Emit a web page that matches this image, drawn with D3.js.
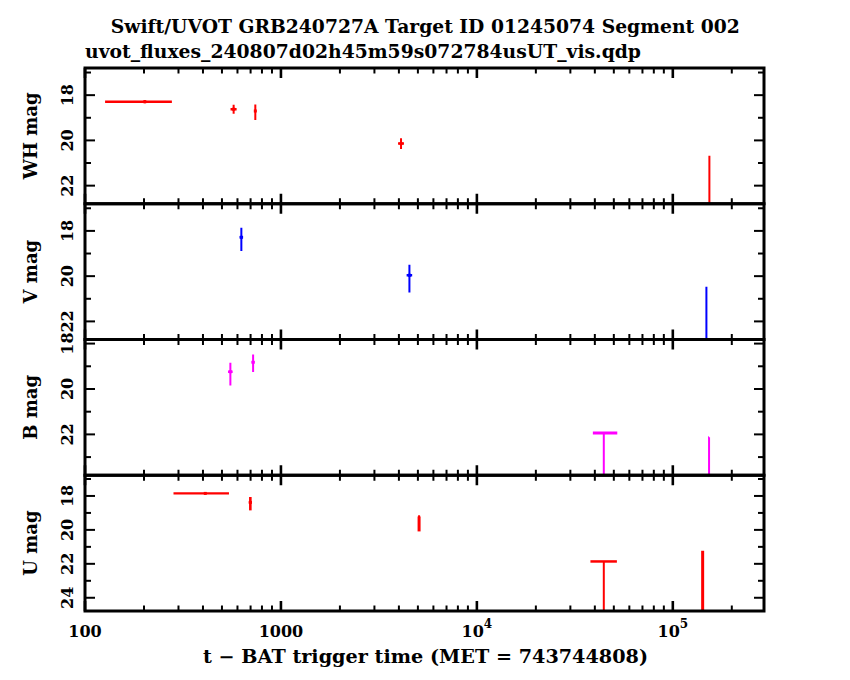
<!DOCTYPE html>
<html>
<head>
<meta charset="utf-8">
<script src="https://cdn.jsdelivr.net/npm/d3@7"></script>
<style>
  body { margin: 0; background: #fff; }
  svg text { font-family: "DejaVu Serif", serif; font-weight: bold; fill: #000; }
</style>
</head>
<body>
<svg id="chart" width="850" height="680"></svg>
<script>
// time axis (seconds since BAT trigger)
const timeDomain = [100, 2.92e5];
const timeMajor = [100, 1000, 1e4, 1e5];
const timeLabels = [["100", null], ["1000", null], ["10", "4"], ["10", "5"]];

// filters, top to bottom
const filters = ["WH", "V", "B", "U"];
const filterColors = ["#ff0000", "#0000ff", "#ff00ff", "#ff0000"];
const magDomains = [[16.8, 22.8], [16.8, 22.8], [17.82, 23.8], [16.78, 24.78]];
const magMajor = [[18, 20, 22], [18, 20, 22], [18, 20, 22], [18, 20, 22, 24]];
const magMinor = [[17, 19, 21], [17, 19, 21], [19, 21, 23], [17, 19, 21, 23]];

// detections: [t, tMin, tMax, mag (null = no marker), magBright, magFaint]
const whPoints = [
  [202, 126.6, 277.6, 18.29, 18.22, 18.36],
  [573.6, 553, 594, 18.62, 18.42, 18.82],
  [740, 734, 746, 18.70, 18.41, 19.10],
  [4101, 3960, 4245, 20.14, 19.90, 20.38],
  [153700, 153700, 153700, null, 20.68, 24.5]
];
const vPoints = [
  [628, 615, 641, 18.28, 17.86, 18.89],
  [4526, 4380, 4675, 19.96, 19.50, 20.72],
  [148400, 148400, 148400, null, 20.47, 24.5]
];
const bPoints = [
  [552, 537, 567, 19.24, 18.84, 19.85],
  [721, 708, 734, 18.82, 18.48, 19.25],
  [153100, 151500, 153100, null, 22.13, 25.5]
];
const uPoints = [
  [411, 282.9, 543, 17.85, 17.81, 17.89],
  [698, 685, 711, 18.38, 18.06, 18.85],
  [5070, 5010, 5130, null, 19.21, 20.09],
  [142000, 142000, 142000, null, 21.23, 26]
];
// upper limits: [t, tMin, tMax, limit mag]
const whLimits = [];
const vLimits = [];
const bLimits = [[44440, 39080, 52070, 21.94]];
const uLimits = [[44440, 37980, 51830, 21.86]];

const allPoints = [whPoints, vPoints, bPoints, uPoints];
const allLimits = [whLimits, vLimits, bLimits, uLimits];
const lineWidths = [2, 2, 2, 2.6];

const svg = d3.select("#chart");
const plotLeft = 85, plotRight = 764, plotTop = 68, plotBottom = 611;
const panelH = (plotBottom - plotTop) / filters.length;

const x = d3.scaleLog().domain(timeDomain).range([plotLeft, plotRight]);

const timeMinor = [];
for (let dec = 100; dec < timeDomain[1]; dec *= 10) {
  for (let k = 2; k <= 9; k++) {
    if (k * dec < timeDomain[1]) timeMinor.push(k * dec);
  }
}

filters.forEach((name, i) => {
  const y0 = plotTop + i * panelH, y1 = y0 + panelH;
  const y = d3.scaleLinear().domain(magDomains[i]).range([y0, y1]);
  const color = filterColors[i];
  const g = svg.append("g").attr("class", "panel");

  svg.append("clipPath").attr("id", "clip" + i)
    .append("rect").attr("x", plotLeft).attr("y", y0)
    .attr("width", plotRight - plotLeft).attr("height", panelH);

  const data = g.append("g").attr("clip-path", `url(#clip${i})`);

  // error bars
  allPoints[i].forEach(p => {
    const [t, tMin, tMax, mag, mB, mF] = p;
    const lw = (name === "U" && mag === null) ? 3 : lineWidths[i];
    data.append("line")
      .attr("x1", x(t)).attr("x2", x(t))
      .attr("y1", y(mB)).attr("y2", y(mF))
      .attr("stroke", color).attr("stroke-width", lw);
    if (tMax > tMin) {
      const my = mag === null ? y(mB) : y(mag);
      data.append("line")
        .attr("x1", x(tMin)).attr("x2", x(tMax))
        .attr("y1", my).attr("y2", my)
        .attr("stroke", color).attr("stroke-width", 2.4);
    }
    if (mag !== null) {
      data.append("rect")
        .attr("x", x(t) - 1.5).attr("y", y(mag) - 1.5)
        .attr("width", 3).attr("height", 3)
        .attr("fill", color);
    }
  });

  // upper limits
  allLimits[i].forEach(l => {
    const [t, tMin, tMax, lim] = l;
    data.append("line")
      .attr("x1", x(tMin)).attr("x2", x(tMax))
      .attr("y1", y(lim)).attr("y2", y(lim))
      .attr("stroke", color).attr("stroke-width", name === "B" ? 3 : 2.5);
    data.append("line")
      .attr("x1", x(t)).attr("x2", x(t))
      .attr("y1", y(lim)).attr("y2", y1 + 5)
      .attr("stroke", color).attr("stroke-width", 2);
  });

  // x ticks, top and bottom of every panel, inward
  const xt = timeMajor.map(v => [v, 10]).concat(timeMinor.map(v => [v, 5.5]));
  xt.forEach(([v, len]) => {
    const xx = x(v);
    const sw = len > 6 ? 2.6 : 2;
    g.append("line").attr("x1", xx).attr("x2", xx).attr("y1", y0).attr("y2", y0 + len)
      .attr("stroke", "#000").attr("stroke-width", sw);
    g.append("line").attr("x1", xx).attr("x2", xx).attr("y1", y1).attr("y2", y1 - len)
      .attr("stroke", "#000").attr("stroke-width", sw);
  });

  // y ticks, left and right, inward
  const yt = magMajor[i].map(v => [v, 10]).concat(magMinor[i].map(v => [v, 6]));
  yt.forEach(([v, len]) => {
    const yy = y(v);
    g.append("line").attr("x1", plotLeft).attr("x2", plotLeft + len).attr("y1", yy).attr("y2", yy)
      .attr("stroke", "#000").attr("stroke-width", 2);
    g.append("line").attr("x1", plotRight).attr("x2", plotRight - len).attr("y1", yy).attr("y2", yy)
      .attr("stroke", "#000").attr("stroke-width", 2);
  });

  // y tick labels, rotated
  magMajor[i].forEach(v => {
    g.append("text")
      .attr("transform", `translate(73,${y(v)}) rotate(-90)`)
      .attr("text-anchor", "middle")
      .attr("font-size", 16)
      .text(v);
  });

  // y axis title
  g.append("text")
    .attr("transform", `translate(37,${(y0 + y1) / 2}) rotate(-90)`)
    .attr("text-anchor", "middle")
    .attr("font-size", 18)
    .text(name + " mag");

  // frame
  g.append("rect")
    .attr("x", plotLeft).attr("y", y0)
    .attr("width", plotRight - plotLeft).attr("height", panelH)
    .attr("fill", "none").attr("stroke", "#000").attr("stroke-width", 3);
});

// x tick labels
timeMajor.forEach((v, k) => {
  const [base, sup] = timeLabels[k];
  const t = svg.append("text")
    .attr("x", x(v)).attr("y", 636.5)
    .attr("text-anchor", "middle")
    .attr("font-size", 16);
  t.append("tspan").text(base);
  if (sup) t.append("tspan").attr("font-size", 12).attr("dy", -9).text(sup);
});

svg.append("text")
  .attr("x", 425.5).attr("y", 663)
  .attr("text-anchor", "middle")
  .attr("font-size", 18)
  .attr("textLength", 445).attr("lengthAdjust", "spacingAndGlyphs")
  .text("t \u2212 BAT trigger time (MET = 743744808)");

svg.append("text")
  .attr("x", 425.3).attr("y", 32.5)
  .attr("text-anchor", "middle")
  .attr("font-size", 19)
  .attr("textLength", 629).attr("lengthAdjust", "spacingAndGlyphs")
  .text("Swift/UVOT GRB240727A Target ID 01245074 Segment 002");

svg.append("text")
  .attr("x", 85).attr("y", 58)
  .attr("font-size", 19)
  .attr("textLength", 556).attr("lengthAdjust", "spacingAndGlyphs")
  .text("uvot_fluxes_240807d02h45m59s072784usUT_vis.qdp");
</script>
</body>
</html>
